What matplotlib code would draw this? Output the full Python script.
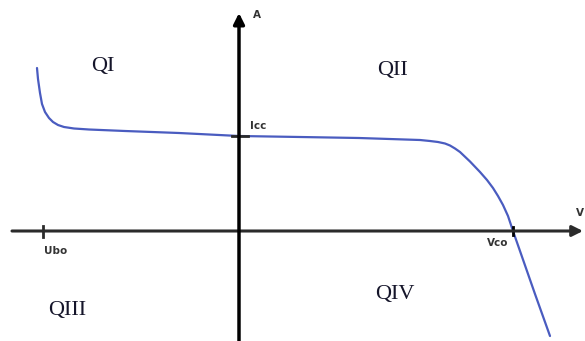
import matplotlib.pyplot as plt

# I-V curve (origin at the axis crossing, arbitrary units)
voltage = [-202, -201, -199, -197, -194, -190, -186, -181, -175, -165, -150, -114, -60, 0,
           61, 120, 181, 191, 199, 206, 211, 216, 221, 231, 241, 248, 254, 259, 264, 269, 274,
           281, 296, 311]
current = [163, 152, 138, 127, 119, 113, 109, 106, 104, 102.5, 101.5, 100, 98, 95,
           94, 93, 91, 90, 89, 87.5, 85.5, 82.5, 79, 69.5, 59, 51, 43, 35, 26, 15, 0,
           -20, -63, -105]

ubo = -196
vco = 274
icc = 95

quadrants = ['QI', 'QII', 'QIII', 'QIV']

fig = plt.figure(figsize=(5.85, 3.41), dpi=100)
ax = fig.add_axes([0, 0, 1, 1])
ax.set_xlim(-239, 346)
ax.set_ylim(-110, 231)
ax.axis('off')

axis_col = '#2b2b2b'
# horizontal (V) axis
ax.annotate('', xy=(344, 0), xytext=(-227, 0),
            arrowprops=dict(arrowstyle='-|>', lw=2.2, color=axis_col,
                            mutation_scale=16, shrinkA=0, shrinkB=0))
# vertical (A) axis
ax.annotate('', xy=(0, 218), xytext=(0, -115),
            arrowprops=dict(arrowstyle='-|>', lw=2.5, color='black',
                            mutation_scale=16, shrinkA=0, shrinkB=0))

# curve
ax.plot(voltage, current, color='#4a5cc0', lw=1.6, solid_capstyle='round',
        solid_joinstyle='round')

# ticks for Ubo, Vco, Icc
ax.plot([ubo, ubo], [-6, 5], color=axis_col, lw=2)
ax.plot([vco, vco], [-4, 4], color='black', lw=2)
ax.plot([-7, 9], [icc, icc], color=axis_col, lw=2)

small = dict(fontsize=7.5, color='#333333', fontweight='bold', family='DejaVu Sans')
ax.text(11, icc + 10, 'Icc', ha='left', va='center', **small)
ax.text(ubo + 13, -20, 'Ubo', ha='center', va='center', **small)
ax.text(vco - 15, -12, 'Vco', ha='center', va='center', **small)
ax.text(14, 216, 'A', ha='left', va='center', **small)
ax.text(345, 18, 'V', ha='right', va='center', **small)

big = dict(fontsize=16, color='#15152a', family='Liberation Serif', ha='center', va='center')
for name, (qx, qy) in zip(quadrants, [(-136, 164), (153, 160), (-172, -79), (156, -63)]):
    ax.text(qx, qy, name, **big)

fig.savefig('out.png', dpi=100)
